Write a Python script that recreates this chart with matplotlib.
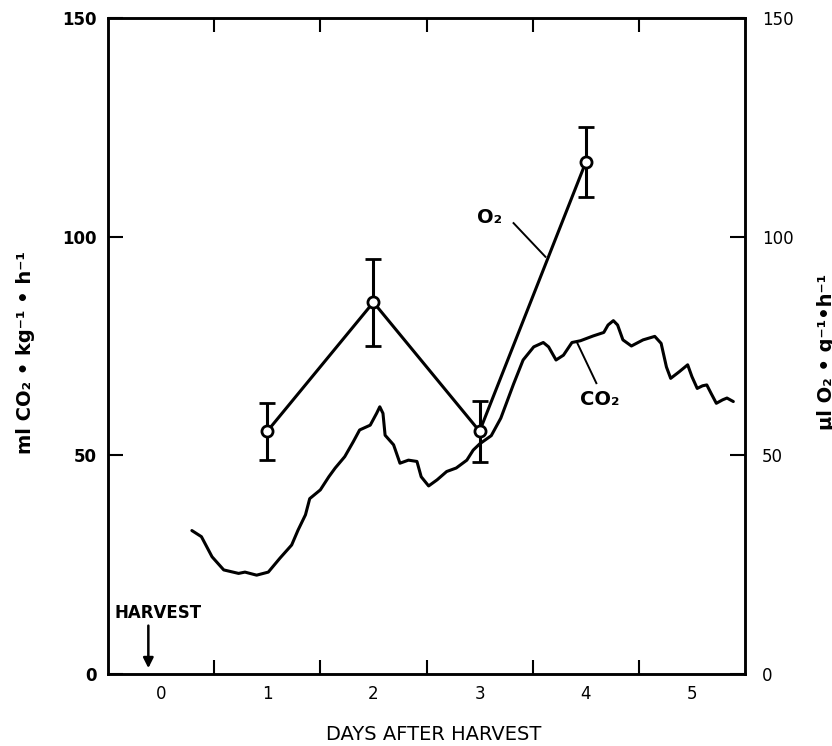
import matplotlib
matplotlib.use("Agg")
import matplotlib.pyplot as plt

# O2 uptake, measured once a day
o2_days = [1, 2, 3, 4]
o2_vals = [55.5, 85.0, 55.5, 117.0]
o2_err = [6.5, 10.0, 7.0, 8.0]

# CO2 output, continuous trace
co2_days = [0.29, 0.38, 0.48, 0.59, 0.73, 0.79, 0.90, 1.01, 1.12, 1.23, 1.29, 1.36,
            1.40, 1.50, 1.58, 1.64, 1.73, 1.81, 1.87, 1.97, 2.03, 2.06, 2.09, 2.11,
            2.19, 2.25, 2.33, 2.41, 2.45, 2.52, 2.60, 2.69, 2.78, 2.88, 2.94, 3.00,
            3.11, 3.20, 3.32, 3.41, 3.51, 3.60, 3.65, 3.72, 3.79, 3.87, 3.95, 4.07,
            4.17, 4.21, 4.26, 4.30, 4.35, 4.43, 4.54, 4.65, 4.71, 4.76, 4.80, 4.88,
            4.96, 5.00, 5.05, 5.10, 5.14, 5.18, 5.23, 5.29, 5.33, 5.39]
co2_vals = [32.8, 31.4, 26.8, 23.8, 23.0, 23.3, 22.6, 23.3, 26.5, 29.5, 32.9, 36.4,
            40.1, 42.1, 45.1, 47.1, 49.7, 53.1, 55.8, 56.9, 59.6, 61.1, 59.6, 54.6,
            52.4, 48.2, 48.9, 48.6, 45.1, 43.0, 44.4, 46.3, 47.1, 48.9, 51.2, 52.6,
            54.5, 58.5, 66.3, 71.8, 74.8, 75.8, 74.8, 71.8, 72.9, 75.8, 76.2, 77.3,
            78.1, 79.8, 80.8, 79.8, 76.4, 75.0, 76.4, 77.2, 75.6, 70.2, 67.6, 69.1,
            70.7, 68.0, 65.3, 65.9, 66.1, 64.2, 61.9, 62.7, 63.1, 62.3]

day_labels = ["0", "1", "2", "3", "4", "5"]

fig = plt.figure(figsize=(8.32, 7.46), dpi=100)
ax = fig.add_axes([108/832, 1-674/746, (745-108)/832, (674-18)/746])

lw = 2.2
ax.plot(co2_days, co2_vals, color="black", lw=lw, solid_capstyle="round",
        solid_joinstyle="round")
ax.errorbar(o2_days, o2_vals, yerr=o2_err, color="black", lw=lw, elinewidth=lw,
            capsize=6, capthick=lw, marker="o", ms=8, mfc="white", mec="black",
            mew=2, zorder=3)

ax.set_xlim(-0.5, 5.5)
ax.set_ylim(0, 150)

for s in ax.spines.values():
    s.set_linewidth(1.8)

# tick marks between days, labels on the days
ax.set_xticks([0.5, 1.5, 2.5, 3.5, 4.5])
ax.set_xticklabels([])
ax.set_xticks(range(6), minor=True)
ax.set_xticklabels(day_labels, minor=True, fontsize=12)
ax.tick_params(axis="x", which="major", direction="in", length=10, width=1.5,
               top=True)
ax.tick_params(axis="x", which="minor", length=0, pad=8)

ax.set_yticks([0, 50, 100, 150])
ax.set_yticklabels(["0", "50", "100", "150"], fontsize=12, fontweight="bold")
ax.tick_params(axis="y", direction="in", length=11, width=1.5, pad=8)

ax2 = ax.twinx()
ax2.set_ylim(0, 150)
ax2.set_yticks([0, 50, 100, 150])
ax2.set_yticklabels(["0", "50", "100", "150"], fontsize=12)
ax2.tick_params(axis="y", direction="in", length=11, width=1.5, pad=12)
for s in ax2.spines.values():
    s.set_linewidth(1.8)

fig.text(434/832, 1-735/746, "DAYS AFTER HARVEST", fontsize=14,
         ha="center", va="center")
fig.text(26/832, 1-353/746, "ml CO₂ • kg⁻¹ • h⁻¹", rotation=90, fontsize=14,
         fontweight="bold", ha="center", va="center")
fig.text(817/832, 1-352/746, "μl O₂ • g⁻¹•h⁻¹", rotation=90, fontsize=14,
         fontweight="bold", ha="left", va="center")

# annotations
ax.text(-0.03, 14.0, "HARVEST", fontsize=12, fontweight="bold", ha="center",
        va="center")
ax.annotate("", xy=(-0.12, 0.7), xytext=(-0.12, 11.7),
            arrowprops=dict(arrowstyle="-|>,head_width=0.3,head_length=0.6",
                            color="black", lw=1.8))
ax.text(3.09, 104.3, "O₂", fontsize=14, fontweight="bold", ha="center", va="center")
ax.plot([3.32, 3.62], [103.1, 95.4], color="black", lw=1.4)
ax.text(4.13, 62.7, "CO₂", fontsize=14, fontweight="bold", ha="center", va="center")
ax.plot([3.92, 4.10], [75.7, 66.5], color="black", lw=1.4)

fig.savefig("out.png", dpi=100)
